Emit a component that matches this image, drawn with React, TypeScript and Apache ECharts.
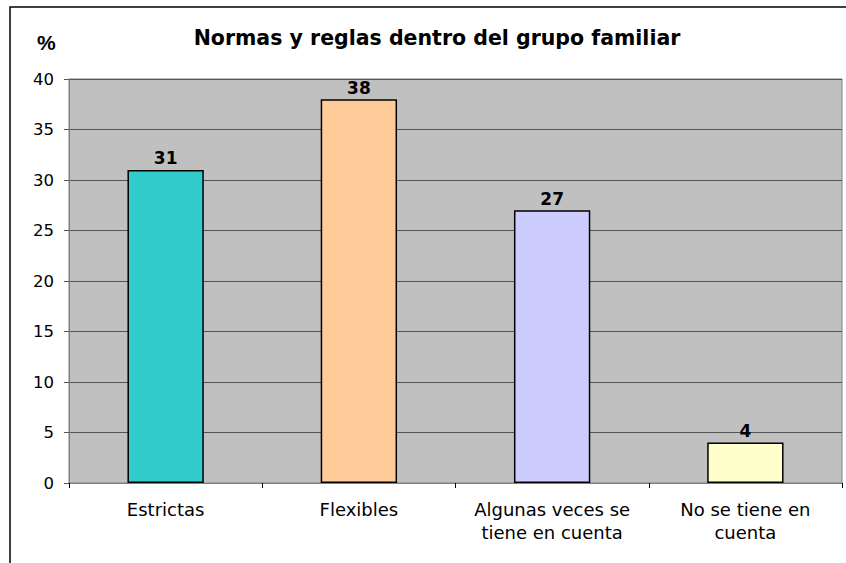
import React, { useEffect, useRef } from "react";
import * as echarts from "echarts";

const categories = ["Estrictas", "Flexibles", "Algunas veces se\ntiene en cuenta", "No se tiene en\ncuenta"];
const values = [31, 38, 27, 4];
const barColors = ["#33CCCC", "#FFCC99", "#CCCCFF", "#FFFFCC"];
const titleText = "Normas y reglas dentro del grupo familiar";
const yUnit = "%";

const FONT = "'DejaVu Sans', Arial, sans-serif";

export default function App() {
  const ref = useRef<HTMLDivElement>(null);
  useEffect(() => {
    if (!ref.current) return;
    const chart = echarts.init(ref.current, null, { renderer: "svg" });
    chart.setOption({
      animation: false,
      backgroundColor: "#ffffff",
      textStyle: { fontFamily: FONT },
      title: {
        text: titleText,
        left: 437,
        top: 27,
        textAlign: "center",
        textStyle: { fontSize: 20.5, fontWeight: "bold", color: "#000", fontFamily: FONT },
        padding: 0,
      },
      graphic: [
        {
          type: "rect",
          shape: { x: 10, y: 7, width: 900, height: 600 },
          style: { fill: "none", stroke: "#000", lineWidth: 1.5 },
          silent: true,
        },
        {
          type: "text",
          x: 37,
          y: 32,
          style: { text: yUnit, fontSize: 21, fontWeight: "bold", fill: "#000", fontFamily: "Arial, 'Liberation Sans', sans-serif" },
        },
      ],
      grid: {
        left: 69,
        top: 79,
        right: 4,
        bottom: 80,
        show: true,
        backgroundColor: "#C0C0C0",
        borderColor: "#808080",
        borderWidth: 1,
      },
      xAxis: {
        type: "category",
        data: categories,
        axisLine: { show: true, lineStyle: { color: "#808080", width: 1 } },
        axisTick: { show: true, interval: 0, length: 5, lineStyle: { color: "#000" } },
        axisLabel: { interval: 0, fontSize: 18, color: "#000", lineHeight: 23, margin: 15, fontFamily: FONT },
      },
      yAxis: {
        type: "value",
        min: 0,
        max: 40,
        interval: 5,
        axisLine: { show: true, lineStyle: { color: "#808080", width: 1 } },
        axisTick: { show: true, length: 5, lineStyle: { color: "#555" } },
        axisLabel: { fontSize: 16.5, color: "#000", margin: 15, fontFamily: FONT },
        splitLine: { show: true, lineStyle: { color: "#555", width: 1 } },
      },
      series: [
        {
          type: "bar",
          data: values.map((v, i) => ({
            value: v,
            itemStyle: { color: barColors[i], borderColor: "#000", borderWidth: 1.5 },
          })),
          barWidth: "39.5%",
          label: {
            show: true,
            position: "top",
            distance: 3,
            fontSize: 17,
            fontWeight: "bold",
            color: "#000",
            fontFamily: FONT,
          },
        },
      ],
    });
    return () => chart.dispose();
  }, []);
  return <div ref={ref} style={{ position: "fixed", left: 0, top: 0, width: 846, height: 563 }} />;
}
